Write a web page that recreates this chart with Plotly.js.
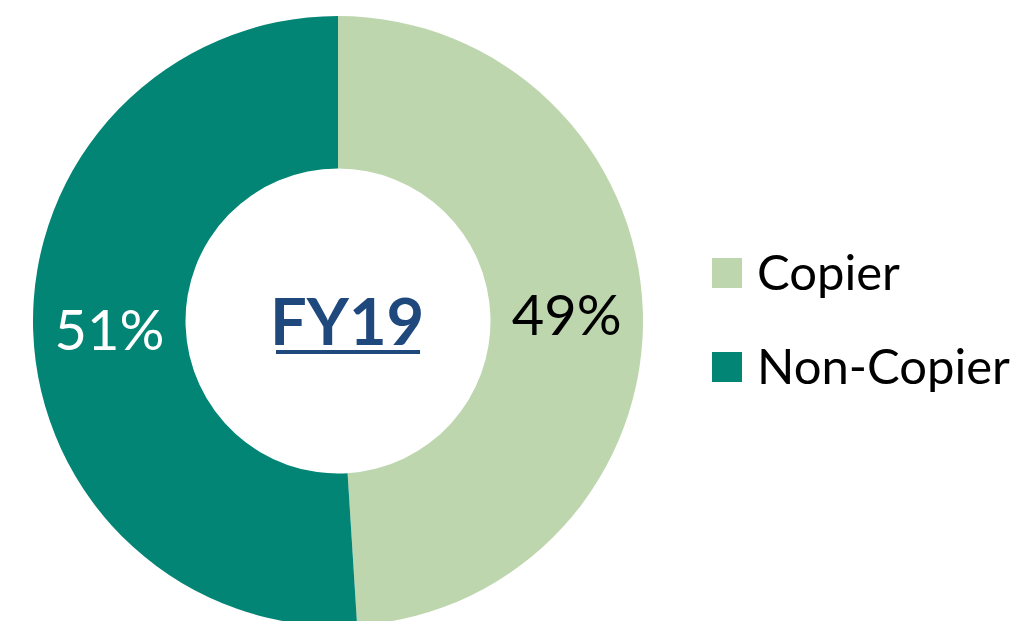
<!DOCTYPE html>
<html>
<head>
<meta charset="utf-8">
<script src="https://cdn.plot.ly/plotly-3.0.1.min.js"></script>
<style>
html,body{margin:0;padding:0;overflow:hidden;background:#fff;}
#chart{width:1033px;height:640px;}
</style>
</head>
<body>
<div id="chart"></div>
<script>
const categories = ["Copier", "Non-Copier"];
const shares = [49, 51];
const sliceColors = ["#BED6AE", "#028575"];
const labelColors = ["#000000", "#FFFFFF"];
const centerLabel = "FY19";

const W = 1033, H = 640;
const px = (x) => x / W;
const py = (y) => 1 - y / H;
const FONT = "Lato, 'Open Sans', sans-serif";

const trace = {
  type: "pie",
  labels: categories,
  values: shares,
  sort: false,
  direction: "clockwise",
  rotation: 0,
  hole: 0.5,
  marker: {colors: sliceColors, line: {width: 0}},
  textinfo: "percent",
  texttemplate: "%{percent:.0%}",
  textposition: "inside",
  insidetextorientation: "horizontal",
  textfont: {family: FONT, size: 56, color: labelColors},
  hoverinfo: "label+percent",
  domain: {x: [px(33), px(643)], y: [py(626), py(16)]},
  showlegend: false
};

const annotations = [{
  xref: "paper", yref: "paper", x: px(347), y: py(320),
  xanchor: "center", yanchor: "middle", showarrow: false,
  text: "<b>" + centerLabel + "</b>",
  font: {family: FONT, size: 65, color: "#1F497D"}
}];
const shapes = [{
  type: "line", xref: "paper", yref: "paper",
  x0: px(276), x1: px(420), y0: py(352), y1: py(352),
  line: {color: "#1F497D", width: 4}
}];

const legendY = [273, 367];
categories.forEach((c, i) => {
  shapes.push({
    type: "rect", xref: "paper", yref: "paper",
    x0: px(712), x1: px(742), y0: py(legendY[i] + 15), y1: py(legendY[i] - 15),
    fillcolor: sliceColors[i], line: {width: 0}
  });
  annotations.push({
    xref: "paper", yref: "paper", x: px(755), y: py(legendY[i] - 2),
    xanchor: "left", yanchor: "middle", showarrow: false,
    text: c, font: {family: FONT, size: 49, color: "#000000"}
  });
});

Plotly.newPlot("chart", [trace], {
  width: W, height: H,
  margin: {l: 0, r: 0, t: 0, b: 0},
  paper_bgcolor: "#FFFFFF",
  annotations: annotations,
  shapes: shapes
}, {displayModeBar: false, staticPlot: true});
</script>
</body>
</html>
